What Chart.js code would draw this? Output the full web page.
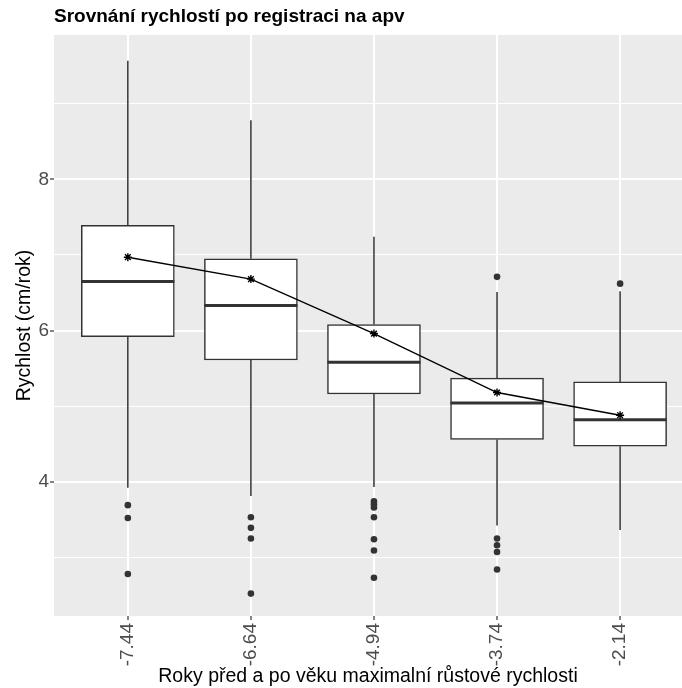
<!DOCTYPE html>
<html>
<head>
<meta charset="utf-8">
<script src="https://cdn.jsdelivr.net/npm/chart.js@4.4.1/dist/chart.umd.min.js"></script>
<style>
  html, body { margin: 0; padding: 0; background: #ffffff; }
  #wrap { width: 682px; height: 688px; }
</style>
</head>
<body>
<div id="wrap"><canvas id="c" width="682" height="688"></canvas></div>
<script>
// ---- data ----
const categories = ['-7.44', '-6.64', '-4.94', '-3.74', '-2.14'];
const whiskerLow  = [3.92, 3.81, 3.93, 3.42, 3.36];
const q1          = [5.92, 5.61, 5.16, 4.56, 4.47];
const median      = [6.65, 6.33, 5.58, 5.04, 4.82];
const q3          = [7.39, 6.95, 6.08, 5.37, 5.32];
const whiskerHigh = [9.57, 8.78, 7.24, 6.51, 6.52];
const means       = [6.97, 6.68, 5.96, 5.18, 4.88];
const outliers1 = [3.69, 3.52, 2.78];
const outliers2 = [3.53, 3.39, 3.25, 2.52];
const outliers3 = [3.74, 3.70, 3.66, 3.53, 3.24, 3.09, 2.73];
const outliers4 = [6.71, 3.25, 3.16, 3.07, 2.84];
const outliers5 = [6.62];
const yTicks = [3, 4, 5, 6, 7, 8, 9];
const yLabelled = [4, 6, 8];

const outlierLists = [outliers1, outliers2, outliers3, outliers4, outliers5];
const pos = categories.map((_, i) => i + 1);

const boxData = pos.map((x, i) => ({ x: x, y: [q1[i], q3[i]] }));
const meanData = pos.map((x, i) => ({ x: x, y: means[i] }));
const outlierData = [];
outlierLists.forEach((list, i) => list.forEach(v => outlierData.push({ x: pos[i], y: v })));

const TEXT = 'Liberation Sans, Arial, sans-serif';
const BOXCOL = '#333333';

const panelPlugin = {
  id: 'panel',
  beforeDraw(chart) {
    const { ctx, chartArea: a } = chart;
    ctx.save();
    ctx.fillStyle = '#ffffff';
    ctx.fillRect(0, 0, chart.width, chart.height);
    ctx.fillStyle = '#EBEBEB';
    ctx.fillRect(a.left, a.top, a.right - a.left, a.bottom - a.top);
    ctx.restore();
  }
};

const boxPartsPlugin = {
  id: 'boxParts',
  beforeDatasetsDraw(chart) {
    const { ctx, scales: { x, y }, chartArea: a } = chart;
    ctx.save();
    ctx.beginPath();
    ctx.rect(a.left, a.top, a.right - a.left, a.bottom - a.top);
    ctx.clip();
    ctx.strokeStyle = BOXCOL;
    ctx.lineWidth = 1.5;
    pos.forEach((p, i) => {
      const px = x.getPixelForValue(p);
      ctx.beginPath();
      ctx.moveTo(px, y.getPixelForValue(q3[i]));
      ctx.lineTo(px, y.getPixelForValue(whiskerHigh[i]));
      ctx.moveTo(px, y.getPixelForValue(q1[i]));
      ctx.lineTo(px, y.getPixelForValue(whiskerLow[i]));
      ctx.stroke();
    });
    ctx.restore();
  },
  afterDatasetDraw(chart, args) {
    if (args.index !== 0) return;
    const { ctx, scales: { y } } = chart;
    const meta = chart.getDatasetMeta(0);
    ctx.save();
    ctx.strokeStyle = BOXCOL;
    ctx.lineWidth = 3;
    meta.data.forEach((bar, i) => {
      const half = bar.width / 2;
      const py = y.getPixelForValue(median[i]);
      ctx.beginPath();
      ctx.moveTo(bar.x - half, py);
      ctx.lineTo(bar.x + half, py);
      ctx.stroke();
    });
    ctx.restore();
  }
};

new Chart(document.getElementById('c'), {
  type: 'bar',
  data: {
    datasets: [
      {
        type: 'bar',
        data: boxData,
        backgroundColor: '#ffffff',
        borderColor: BOXCOL,
        borderWidth: 1.5,
        borderSkipped: false,
        barThickness: 93,
        order: 3
      },
      {
        type: 'scatter',
        data: outlierData,
        pointRadius: 3.3,
        pointBackgroundColor: '#333333',
        pointBorderWidth: 0,
        order: 2
      },
      {
        type: 'line',
        data: meanData,
        borderColor: '#000000',
        borderWidth: 1.4,
        pointStyle: 'star',
        pointRadius: 4,
        pointBorderColor: '#000000',
        pointBorderWidth: 1.4,
        fill: false,
        tension: 0,
        order: 1
      }
    ]
  },
  options: {
    responsive: false,
    animation: false,
    devicePixelRatio: 1,
    layout: { padding: 0, autoPadding: false },
    plugins: {
      legend: { display: false },
      tooltip: { enabled: false },
      title: {
        display: true,
        text: 'Srovnání rychlostí po registraci na apv',
        align: 'start',
        fullSize: false,
        color: '#000000',
        font: { family: TEXT, size: 19, weight: 'bold', lineHeight: 1.2 },
        padding: { top: 5, bottom: 7.2 }
      }
    },
    scales: {
      x: {
        type: 'linear',
        offset: false,
        min: 0.4,
        max: 5.503,
        afterBuildTicks(scale) { scale.ticks = pos.map(v => ({ value: v })); },
        afterFit(scale) { scale.height = 72; scale.paddingLeft = 0; scale.paddingRight = 0; },
        ticks: {
          autoSkip: false,
          minRotation: 90,
          maxRotation: 90,
          padding: 3,
          color: '#4D4D4D',
          font: { family: TEXT, size: 19 },
          callback: (v) => categories[Math.round(v) - 1]
        },
        grid: {
          offset: false,
          color: '#ffffff',
          lineWidth: 2,
          tickLength: 4,
          tickColor: '#333333',
          tickWidth: 1.2
        },
        border: { display: false },
        title: {
          display: true,
          text: 'Roky před a po věku maximalní růstové rychlosti',
          color: '#000000',
          font: { family: TEXT, size: 19.5, lineHeight: 1.2 },
          padding: { top: 0, bottom: 0 }
        }
      },
      y: {
        type: 'linear',
        min: 2.224,
        max: 9.909,
        afterBuildTicks(scale) { scale.ticks = yTicks.map(v => ({ value: v })); },
        afterFit(scale) { scale.width = 54; scale.paddingTop = 0; scale.paddingBottom = 0; },
        ticks: {
          padding: 1,
          color: '#4D4D4D',
          font: { family: TEXT, size: 19 },
          callback: (v) => (yLabelled.includes(v) ? String(v) : '')
        },
        grid: {
          color: '#ffffff',
          lineWidth: (ctx) => (ctx.tick && yLabelled.includes(ctx.tick.value) ? 2 : 1),
          tickLength: 4,
          tickColor: (ctx) => (ctx.tick && yLabelled.includes(ctx.tick.value) ? '#333333' : 'rgba(0,0,0,0)'),
          tickWidth: 1.2
        },
        border: { display: false },
        title: {
          display: true,
          text: 'Rychlost (cm/rok)',
          color: '#000000',
          font: { family: TEXT, size: 19.5, lineHeight: 1.2 },
          padding: { top: 13, bottom: 0 }
        }
      }
    }
  },
  plugins: [panelPlugin, boxPartsPlugin]
});
</script>
</body>
</html>
